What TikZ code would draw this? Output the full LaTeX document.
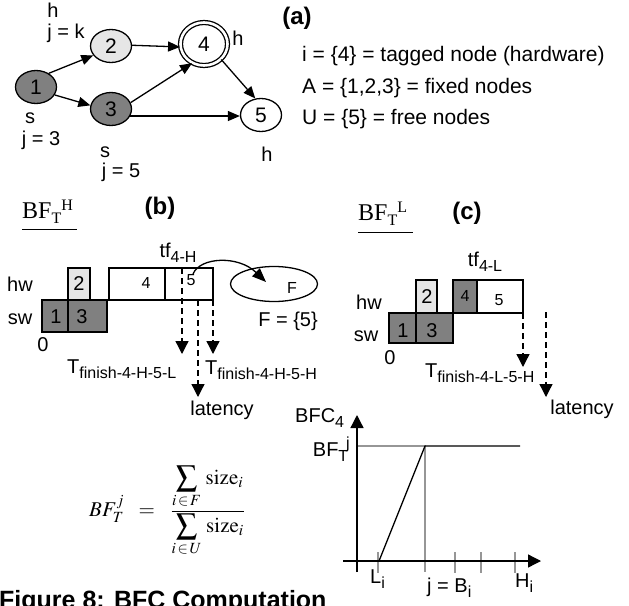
\documentclass[tikz,border=0pt]{standalone}
\usepackage{mathptmx}
\usepackage{graphicx}
\usepackage[no-math]{fontspec}
\setmainfont{Liberation Sans}
\newfontfamily\seriffam{Liberation Serif}
\usetikzlibrary{shapes.geometric,arrows.meta}
\definecolor{dgray}{RGB}{128,128,128}
\definecolor{lgray}{RGB}{230,230,230}
\definecolor{lngray}{RGB}{150,150,150}
\newcommand\fsz[1]{\fontsize{#1}{#1}\selectfont}
\newcommand\lo[1]{\raisebox{-5pt}{\fsz{16}#1}}
\newcommand\hi[1]{\raisebox{8pt}{\fsz{16}#1}}
\begin{document}
\begin{tikzpicture}[x=1pt,y=-1pt,
  circ/.style={ellipse,draw,line width=1.3pt,minimum width=41pt,minimum height=33pt,inner sep=0pt,font=\fsz{21}},
  arr/.style={-{Triangle[length=12pt,width=10pt]},line width=1.3pt},
  lbl/.style={inner sep=0pt,font=\fsz{20}},
  small/.style={inner sep=0pt,font=\fsz{16}},
  ttl/.style={inner sep=0pt,font=\fsz{24}\bfseries},
  boxd/.style={draw,line width=1.3pt},
  darr/.style={dashed,dash pattern=on 6pt off 4pt,line width=1.3pt,-{Triangle[length=13pt,width=13pt]}},
  axarr/.style={line width=1.3pt,-{Triangle[length=13pt,width=13pt]}},
  gline/.style={draw=lngray,line width=1.3pt}]
\useasboundingbox (0,0) rectangle (629,605);

% ---------- (a) graph ----------
\node[circ,fill=dgray] (n1) at (36,87) {1};
\node[circ,fill=lgray] (n2) at (111,46) {2};
\node[circ,fill=dgray] (n3) at (111,109) {3};
\node[circ,double,double distance=2.6pt,minimum width=47pt,minimum height=43pt] (n4) at (204,44) {4};
\node[circ,fill=white] (n5) at (261,115) {5};

\draw[arr] (n1.47) -- (n2.208);
\draw[arr] (n1.337) -- (n3.170);
\draw[arr] (n2.2) -- (n4.187);
\draw[arr] (n3.18) -- (n4.238);
\draw[arr] (n3.340) -- (n3.340 -| n5.west);
\draw[arr] (n4.318) -- (n5.109);

\node[lbl] (h2) at (53,10) {h};
\node[lbl] (j2) at (66,33) {j = k};
\node[lbl] (s1) at (30,118) {s};
\node[lbl] (j1) at (41,140) {j = 3};
\node[lbl] (s3) at (105,152) {s};
\node[lbl] (j3) at (121,172) {j = 5};
\node[lbl] (h4) at (238,38) {h};
\node[lbl] (h5) at (267,154) {h};

\node[ttl] (ta) at (297,18) {(a)};
\node[lbl,font=\fsz{21},anchor=west] (la) at (302,56) {i = \{4\} = tagged node (hardware)};
\node[lbl,font=\fsz{21},anchor=west] (lb) at (302,88) {A = \{1,2,3\} = fixed nodes};
\node[lbl,font=\fsz{21},anchor=west] (lc) at (302,119) {U = \{5\} = free nodes};

% ---------- (b) ----------
\node[inner sep=0pt,font=\fsz{24}\seriffam,anchor=base west] (bfh) at (22,218) {BF\lo{T}\hi{H}};
\draw[line width=1pt] (22,229) -- (77,229);
\node[ttl] (tb) at (160,208) {(b)};
\node[lbl] (tf4h) at (178,253) {tf\lo{4-H}};

\draw[boxd,fill=dgray] (42,300) rectangle (68,332);
\draw[boxd,fill=dgray] (68,300) rectangle (107,332);
\draw[boxd,fill=lgray] (68,268) rectangle (90,300);
\draw[boxd] (109,268) rectangle (165,300);
\draw[boxd] (165,268) rectangle (213,300);
\draw[line width=2.5pt] (165,268) -- (165,300);

\node[lbl] (b1) at (56,317) {1};
\node[lbl] (b3) at (82,317) {3};
\node[lbl] (b2) at (79,284) {2};
\node[small] (b4) at (146,283) {4};
\node[small] (b5) at (191,280) {5};
\node[lbl] (hwb) at (20,284) {hw};
\node[lbl] (swb) at (20,319) {sw};
\node[lbl] (zb) at (43,345) {0};

\coordinate (d1s) at (182,268); \coordinate (d1e) at (182,354);
\coordinate (d2s) at (198,300); \coordinate (d2e) at (198,397);
\coordinate (d3s) at (213,300); \coordinate (d3e) at (213,354);
\draw[darr] (d1s) -- (d1e);
\draw[darr] (d2s) -- (d2e);
\draw[darr] (d3s) -- (d3e);

\node[lbl,anchor=base west] (tfl) at (67,373) {T\lo{finish-4-H-5-L}};
\node[lbl,anchor=base west] (tfh) at (205,374) {T\lo{finish-4-H-5-H}};
\node[lbl] (latb) at (222,410) {latency};

\node[draw,ellipse,line width=1.3pt,minimum width=87pt,minimum height=35pt,inner sep=0pt] (ef) at (274,284) {};
\node[small] (fl) at (292,288) {F};
\node[lbl] (fset) at (288,321) {F = \{5\}};
\coordinate (cs) at (193,274);
\coordinate (ce) at (266,282);
\draw[line width=1.3pt,-{Triangle[length=14pt,width=11pt]}] (cs) .. controls (200,257) and (238,255) .. (ce);

% ---------- (c) ----------
\node[inner sep=0pt,font=\fsz{24}\seriffam,anchor=base west] (bfl) at (358,220) {BF\lo{T}\hi{L}};
\draw[line width=1pt] (358,232) -- (413,232);
\node[ttl] (tc) at (467,213) {(c)};
\node[lbl] (tf4l) at (485,262) {tf\lo{4-L}};

\draw[boxd,fill=dgray] (389,313) rectangle (416,343);
\draw[boxd,fill=dgray] (416,313) rectangle (453,343);
\draw[boxd,fill=lgray] (416,280) rectangle (437,313);
\draw[boxd,fill=dgray] (453,280) rectangle (477,313);
\draw[boxd] (477,280) rectangle (523,313);

\node[lbl] (c1) at (403,331) {1};
\node[lbl] (c3) at (432,331) {3};
\node[lbl] (c2) at (427,297) {2};
\node[small] (c4) at (465,296) {4};
\node[small] (c5) at (499,300) {5};
\node[lbl] (hwc) at (369,302) {hw};
\node[lbl] (swc) at (366,336) {sw};
\node[lbl] (zc) at (390,358) {0};

\coordinate (e1s) at (523,313); \coordinate (e1e) at (523,367);
\coordinate (e2s) at (546,312); \coordinate (e2e) at (546,397);
\draw[darr] (e1s) -- (e1e);
\draw[darr] (e2s) -- (e2e);
\node[lbl,anchor=base west] (tfc) at (425,377) {T\lo{finish-4-L-5-H}};
\node[lbl] (latc) at (582,409) {latency};

% ---------- BFC graph ----------
\node[lbl,anchor=base west] (bfc) at (295,422) {BFC\lo{4}};
\node[lbl,anchor=base east] (bfj) at (350,456) {BF\lo{T}\kern-2pt\hi{j}};
\coordinate (yb) at (357,572); \coordinate (yt) at (357,415);
\coordinate (xl) at (343,561); \coordinate (xr) at (541,561);
\coordinate (pl) at (379,561); \coordinate (pk) at (425,446); \coordinate (pe) at (520,446);
\coordinate (gl) at (357,446); \coordinate (gb) at (425,572);
\draw[gline] (gl) -- (pk) -- (gb);
\foreach \tx in {378,455,481,515} \draw[gline] (\tx,552) -- (\tx,573);
\draw[axarr] (yb) -- (yt);
\draw[axarr] (xl) -- (xr);
\draw[line width=1.3pt] (pl) -- (pk) -- (pe);
\node[lbl,anchor=base west] (li) at (370,583) {L\lo{i}};
\node[lbl,anchor=base west] (bi) at (427,592) {j = B\lo{i}};
\node[lbl,anchor=base west] (hi) at (515,587) {H\lo{i}};

% ---------- formula ----------
\node[inner sep=0pt] (frm) at (168,511)
  {\scalebox{2.1}{$\displaystyle BF^{j}_{T} \;\;=\;\; \frac{\displaystyle\sum_{i\,\in\,F}\,\mathrm{size}_{i}}{\displaystyle\sum_{i\,\in\,U}\,\mathrm{size}_{i}}$}};

\node[inner sep=0pt,font=\fsz{25}\bfseries,anchor=base west] (cap) at (-1,608) {Figure 8: BFC Computation};
\end{tikzpicture}
\end{document}
